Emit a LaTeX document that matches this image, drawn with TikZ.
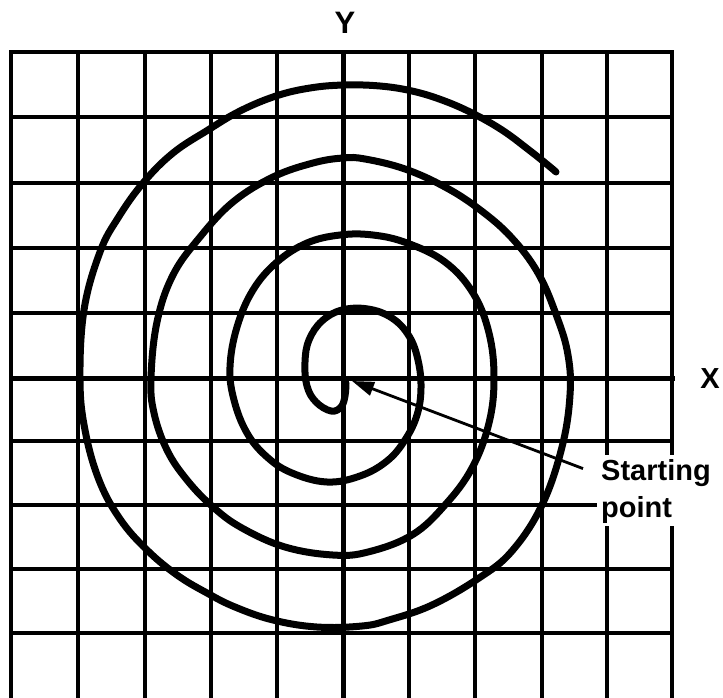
\documentclass[tikz,border=0pt]{standalone}
\usepackage{fontspec}
\setmainfont{Liberation Sans}
\usetikzlibrary{arrows.meta}
\begin{document}
\begin{tikzpicture}[x=1pt,y=-1pt,
  gridline/.style={line width=3.5pt,line cap=rect},
  axisline/.style={line width=5pt,line cap=rect},
  spiralline/.style={line width=7pt,line cap=round,line join=round},
  pointer/.style={line width=2.8pt,-{Triangle[length=22pt,width=14pt]}},
  lbl/.style={font=\fontsize{29}{34}\selectfont\bfseries,inner sep=0pt}]
\useasboundingbox (0,0) rectangle (723,697);
% horizontal grid lines
\foreach \y in {52,117,183,248,313,441,569,633} \draw[gridline] (11,\y) -- (672,\y);
\draw[gridline] (11,505) -- (595,505);
\draw[axisline] (11,378) -- (672,378);
% vertical grid lines
\foreach \x in {11,78,145,211,277,409,475,542} \draw[gridline] (\x,52) -- (\x,700);
\draw[axisline] (343,52) -- (343,700);
\foreach \x in {607,672} {
  \draw[gridline] (\x,52) -- (\x,453);
  \draw[gridline] (\x,528) -- (\x,700);
}
% spiral
\draw[spiralline] plot[smooth,tension=0.65] coordinates {
(346,383) (345,396) (341,407) (331,411) (316,402) (307,386) (305,362) (309,340)
(322,321) (342,310) (368,309) (392,318) (409,336) (418,360) (421,388) (417,415)
(405,440) (387,461) (360,476) (327,482) (292,473) (267,457) (247,433) (234,400)
(230,367) (237,327) (253,290) (277,262) (307,243) (340,235) (373,235) (407,243)
(445,262) (473,293) (489,333) (494,378) (489,423) (472,468) (445,505) (412,535)
(368,552) (333,555) (285,547) (242,528) (213,507) (187,480) (167,450) (154,413)
(151,378) (157,322) (173,275) (200,237) (233,202) (273,177) (313,163) (343,158)
(365,159) (405,169) (445,187) (479,209) (511,237) (538,273) (557,317) (568,355)
(570,395) (562,447) (542,505) (512,551) (479,578) (432,605) (389,620) (362,626)
(317,627) (273,620) (235,607) (207,593) (177,575) (147,550) (120,519) (99,480)
(85,430) (80,380) (84,310) (100,252) (118,218) (143,183) (173,153) (208,130)
(240,111) (276,96) (310,88) (344,85) (380,86) (412,91) (442,100) (472,113)
(502,130) (529,150) (549,166) (556,172)};
% labels
\node[lbl,font=\fontsize{31}{36}\selectfont\bfseries,anchor=base] (ylab) at (345,33) {Y};
\node[lbl,anchor=base] (xlab) at (710,388) {X};
\node[lbl,anchor=base west] (start1) at (601,480) {Starting};
\node[lbl,anchor=base west] (start2) at (601,517) {point};
\coordinate (tip) at (352,381);
\coordinate (tail) at ([shift={(-18,-4)}]start1.west);
\draw[pointer] (tail) -- (tip);
\end{tikzpicture}
\end{document}
